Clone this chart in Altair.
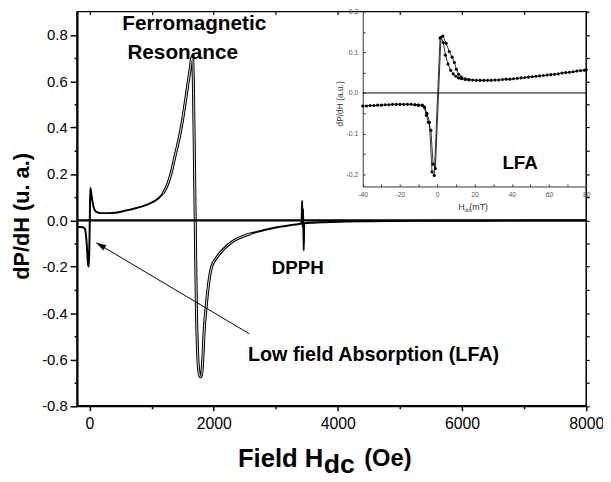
import altair as alt
import pandas as pd

FONT = "Liberation Sans"

# ---------------- main FMR spectrum ----------------
field_oe = [-200, -150, -110, -80, -60, -40, -25, -15, -5, 5, 13, 25, 40, 55, 75, 100, 130,
            160, 300, 450, 585, 700, 850, 950, 1060, 1120, 1180, 1230, 1280, 1330, 1380, 1420,
            1460, 1500, 1540, 1580, 1620, 1645, 1660, 1675, 1690, 1705, 1720, 1740, 1760, 1785,
            1805, 1825, 1846, 1880, 1920, 1962, 2000, 2050, 2100, 2150, 2250, 2350, 2450, 2600,
            2800, 3000, 3230, 3400, 3415, 3425, 3432, 3440, 3450, 3458, 3470, 3600, 3800, 4000,
            4500, 5000, 5500, 6000, 7000, 8000]
dpdh = [-0.028, -0.029, -0.030, -0.034, -0.055, -0.120, -0.185, -0.200, -0.150, 0.000, 0.139,
        0.125, 0.095, 0.070, 0.050, 0.039, 0.034,
        0.032, 0.031, 0.034, 0.042, 0.049, 0.060, 0.070, 0.085, 0.097, 0.115, 0.138, 0.172,
        0.220, 0.280, 0.325, 0.375, 0.435, 0.505, 0.580, 0.650, 0.700, 0.708, 0.560, 0.260,
        -0.050, -0.350, -0.560, -0.650, -0.675, -0.665, -0.600, -0.480, -0.370, -0.270,
        -0.205, -0.180, -0.160, -0.142, -0.127, -0.102, -0.084, -0.071, -0.057, -0.043,
        -0.031, -0.021, -0.015, -0.013, 0.085, -0.030, 0.050, -0.130, -0.020, -0.012,
        -0.010, -0.008, -0.006, -0.004, -0.003, -0.002, -0.002, -0.001, -0.001]

main_x_ticks = [0, 1000, 2000, 3000, 4000, 5000, 6000, 7000, 8000]
main_y_ticks = [-0.8, -0.7, -0.6, -0.5, -0.4, -0.3, -0.2, -0.1, 0.0, 0.1, 0.2, 0.3, 0.4,
                0.5, 0.6, 0.7, 0.8]
main_y_right_ticks = main_y_ticks + [0.9]

# ---------------- inset (LFA, field in mT) ----------------
inset_a_mt = [-40, -38, -36, -34, -32, -30, -28, -26, -24, -22, -20, -18, -16, -14, -12, -10,
              -8, -7, -5.8, -4.8, -3.4, -2.2, -1.0, 2.0, 3.2, 4.4, 5.8, 7.2, 8.6, 10, 11.5, 13,
              15, 17, 19, 21, 23, 25, 27, 29, 31, 33, 35, 37, 39, 41, 43, 45, 47, 49, 51, 53,
              55, 57, 59, 61, 63, 65, 67, 69, 71, 73, 75, 77, 79, 80]
inset_a_val = [-0.032, -0.032, -0.031, -0.031, -0.030, -0.030, -0.029, -0.029, -0.028, -0.028,
               -0.028, -0.028, -0.028, -0.028, -0.029, -0.030, -0.031, -0.034, -0.055, -0.072,
               -0.092, -0.175, -0.186, 0.137, 0.124, 0.093, 0.071, 0.056, 0.047, 0.041, 0.037,
               0.035, 0.033, 0.032, 0.032, 0.031, 0.031, 0.031, 0.031, 0.031, 0.032, 0.032,
               0.033, 0.034, 0.034, 0.035, 0.036, 0.037, 0.038, 0.039, 0.040, 0.041, 0.042,
               0.043, 0.044, 0.045, 0.046, 0.047, 0.049, 0.050, 0.051, 0.052, 0.054, 0.055,
               0.056, 0.057]
inset_b_mt = [-12, -10, -8, -6.8, -5.5, -4.2, -2.8, -1.6, 1.5, 3.0, 4.8, 6.5, 8.0, 9.2, 10.3,
              11.5, 13, 15, 17]
inset_b_val = [-0.029, -0.030, -0.030, -0.036, -0.050, -0.072, -0.194, -0.203, 0.135, 0.140,
               0.122, 0.102, 0.088, 0.075, 0.058, 0.046, 0.039, 0.035, 0.033]

inset_x_labels = [-40, -20, 0, 20, 40, 60, 80]
inset_x_minor = [-40, -30, -20, -10, 0, 10, 20, 30, 40, 50, 60, 70, 80]
inset_y_labels = [-0.2, -0.1, 0.0, 0.1, 0.2]
inset_y_minor = [-0.2, -0.15, -0.1, -0.05, 0.0, 0.05, 0.1, 0.15, 0.2]

# arrow: tail (near label) -> head (LFA peak)
arrow_tail = {"x": 2573, "y": -0.489}
arrow_head = {"x": 110, "y": -0.097}

W, H = 516, 399.5

main_df = pd.DataFrame({"field": field_oe, "dpdh": dpdh})
ia_df = pd.DataFrame({"mt": inset_a_mt, "v": inset_a_val})
ib_df = pd.DataFrame({"mt": inset_b_mt, "v": inset_b_val})
arrow_df = pd.DataFrame([{"x": arrow_tail["x"], "y": arrow_tail["y"],
                          "x2": arrow_head["x"], "y2": arrow_head["y"]}])
head_df = pd.DataFrame([arrow_head])


def mxs():
    return alt.Scale(domain=[-200, 8000], nice=False, zero=False)


def mys():
    return alt.Scale(domain=[-0.8, 0.9], nice=False, zero=False)


def ixs():
    return alt.Scale(domain=[-40, 80], range=[289.5, W], nice=False, zero=False)


def iys():
    return alt.Scale(domain=[-0.23, 0.2], range=[177.2, 0], nice=False, zero=False)


even_k = "abs(datum.value % 2000) < 1"
even_y = "abs(round(datum.value*10)) % 2 == 0"

main_x_axis = alt.Axis(
    orient="bottom", values=main_x_ticks, title=None, grid=False,
    labelExpr=f"{even_k} ? format(datum.value, 'd') : ''",
    tickSize={"condition": {"test": even_k, "value": 5}, "value": 3},
    labelFontSize=16, labelFont=FONT, labelColor="black", labelPadding=5,
    labelFlush=False, labelOverlap=False,
    domainColor="black", domainWidth=2, tickColor="black", tickWidth=1.5)

main_y_axis = alt.Axis(
    orient="left", values=main_y_ticks, grid=False,
    labelExpr=f"{even_y} ? (datum.value < -0.001 ? '-' : '') + format(abs(datum.value), '.1f') : ''",
    tickSize={"condition": {"test": even_y, "value": 7}, "value": 3},
    labelFontSize=15, labelFont=FONT, labelColor="black", labelPadding=3,
    labelFlush=False, labelOverlap=False,
    domainColor="black", domainWidth=2, tickColor="black", tickWidth=1.5,
    title="dP/dH (u. a.)", titleFont=FONT, titleFontSize=22, titleFontWeight="bold",
    titleColor="black", titleX=-56, titleY=207, titleAngle=270, titleBaseline="middle",
    titleAlign="center")

top_tick_axis = alt.Axis(orient="bottom", offset=-H, values=main_x_ticks, labels=False,
                         domain=False, tickSize=3, tickColor="black", tickWidth=1.2,
                         title=None, grid=False)
right_tick_axis = alt.Axis(orient="right", values=main_y_right_ticks, labels=False,
                           domain=False, tickSize=3, tickColor="black", tickWidth=1.2,
                           title=None, grid=False)

inset_x_axis = alt.Axis(
    orient="bottom", offset=-(H - 177.2), values=inset_x_labels, title=None, grid=False,
    labelExpr="(datum.value < 0 ? '-' : '') + format(abs(datum.value), 'd')",
    tickSize=0, labelPadding=4, labelFontSize=7, labelFont=FONT, labelColor="#555",
    labelFlush=False, labelOverlap=False, domainColor="#333", domainWidth=1)
inset_y_axis = alt.Axis(
    orient="left", offset=-289.5, values=inset_y_labels, grid=False,
    labelExpr="(datum.value < -0.001 ? '-' : '') + format(abs(datum.value), '.1f')",
    tickSize=0, labelPadding=5, labelFontSize=7, labelFont=FONT, labelColor="#555",
    labelFlush=False, labelOverlap=False, domainColor="#333", domainWidth=1,
    title="dP/dH (a.u.)", titleFont=FONT, titleFontSize=8.5, titleFontWeight="normal",
    titleColor="#333", titleX=-23, titleY=93, titleAngle=270, titleBaseline="middle",
    titleAlign="center")
inset_x_ticks = alt.Axis(orient="top", offset=-177.2, values=inset_x_minor, labels=False,
                         domain=False, tickSize=2.5, tickColor="#333", title=None, grid=False)
inset_y_ticks = alt.Axis(orient="right", offset=-(W - 289.5), values=inset_y_minor,
                         labels=False, domain=False, tickSize=2.5, tickColor="#333",
                         title=None, grid=False)

# main curve (single trace look everywhere)
curve = alt.Chart(main_df).mark_line(color="black", strokeWidth=2, interpolate="monotone").encode(
    x=alt.X("field:Q", scale=mxs(), axis=main_x_axis),
    y=alt.Y("dpdh:Q", scale=mys(), axis=main_y_axis))

# double trace look in the FMR region
fmr = main_df[(main_df.field >= 1180) & (main_df.field <= 2600)]
curve_outer = alt.Chart(fmr).mark_line(color="black", strokeWidth=3.0, interpolate="monotone").encode(
    x=alt.X("field:Q", scale=mxs(), axis=None),
    y=alt.Y("dpdh:Q", scale=mys(), axis=None))
curve_inner = alt.Chart(fmr).mark_line(color="white", strokeWidth=0.9, interpolate="monotone").encode(
    x=alt.X("field:Q", scale=mxs(), axis=top_tick_axis),
    y=alt.Y("dpdh:Q", scale=mys(), axis=right_tick_axis))

zero = alt.Chart(alt.Data(values=[{}])).mark_rule(color="black", strokeWidth=2.2).encode(
    y=alt.YDatum(0, scale=mys(), axis=None))

arrow = alt.Chart(arrow_df).mark_rule(color="black", strokeWidth=1).encode(
    x=alt.X("x:Q", scale=mxs(), axis=None), y=alt.Y("y:Q", scale=mys(), axis=None),
    x2="x2:Q", y2="y2:Q")
head = alt.Chart(head_df).mark_point(
    shape="M0,0 L0.3,1 L-0.3,1 Z", size=400, filled=True, color="black", opacity=1,
    angle=300.7).encode(
    x=alt.X("x:Q", scale=mxs(), axis=None), y=alt.Y("y:Q", scale=mys(), axis=None))

# inset
in_zero = alt.Chart(alt.Data(values=[{}])).mark_rule(color="black", strokeWidth=1).encode(
    x=alt.XDatum(-40, scale=ixs(), axis=None), x2=alt.X2Datum(80),
    y=alt.YDatum(0, scale=iys(), axis=None))
in_la = alt.Chart(ia_df).mark_line(color="black", strokeWidth=0.8).encode(
    x=alt.X("mt:Q", scale=ixs(), axis=inset_x_axis),
    y=alt.Y("v:Q", scale=iys(), axis=inset_y_axis))
in_pa = alt.Chart(ia_df).mark_circle(color="black", size=10, opacity=1).encode(
    x=alt.X("mt:Q", scale=ixs(), axis=inset_x_ticks),
    y=alt.Y("v:Q", scale=iys(), axis=inset_y_ticks))
in_lb = alt.Chart(ib_df).mark_line(color="black", strokeWidth=0.8).encode(
    x=alt.X("mt:Q", scale=ixs(), axis=None), y=alt.Y("v:Q", scale=iys(), axis=None))
in_pb = alt.Chart(ib_df).mark_circle(color="black", size=10, opacity=1).encode(
    x=alt.X("mt:Q", scale=ixs(), axis=None), y=alt.Y("v:Q", scale=iys(), axis=None))


def txt(s, x, y, size, weight="bold", align="center", color="black"):
    return alt.Chart(alt.Data(values=[{}])).mark_text(
        text=s, font=FONT, fontSize=size, fontWeight=weight, align=align,
        baseline="alphabetic", color=color).encode(x=alt.value(x), y=alt.value(y))


texts = [
    txt("Ferromagnetic", 118.7, 18.8, 21),
    txt("Resonance", 107, 47.5, 21),
    txt("DPPH", 223.7, 265.5, 19),
    txt("Low field Absorption (LFA)", 300.5, 354.2, 20),
    txt("LFA", 449, 159.8, 19),
    txt("Field H", 163, 461.5, 26, align="left"),
    txt("dc", 250, 468, 27, align="left"),
    txt("(Oe)", 291, 460, 24, align="left"),
    txt("H", 386.3, 200.8, 9, weight="normal", align="left", color="#333"),
    txt("dc", 392.6, 203.5, 5.5, weight="normal", align="left", color="#333"),
    txt("(mT)", 397.5, 200.8, 9, weight="normal", align="left", color="#333"),
]

chart = alt.layer(
    curve, curve_outer, curve_inner, zero, arrow, head,
    in_zero, in_la, in_lb, in_pa, in_pb, *texts
).resolve_scale(x="independent", y="independent").resolve_axis(
    x="independent", y="independent"
).properties(
    width=W, height=H,
    autosize=alt.AutoSizeParams(type="none"),
    padding={"left": 70, "top": 0.5, "right": 17, "bottom": 73},
    background="white",
).configure_view(stroke="black", strokeWidth=1.5)

chart.save("out.html", embed_options={"renderer": "svg", "actions": False})
